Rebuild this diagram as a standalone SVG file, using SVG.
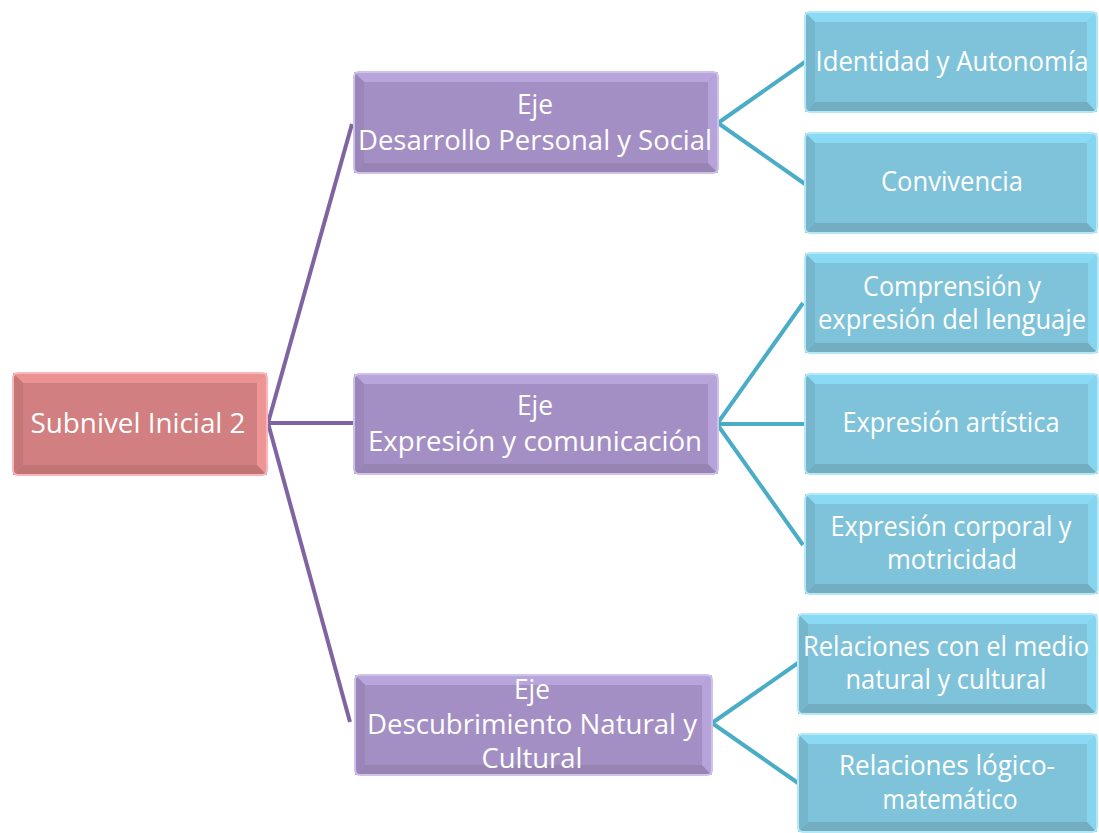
<svg xmlns="http://www.w3.org/2000/svg" width="1099" height="833" viewBox="0 0 1099 833">
<style>
text{font-family:"Open Sans","Liberation Sans",sans-serif;font-size:26.5px;fill:#fff;text-anchor:middle}
.red .face{fill:#D17F80}.red .top{fill:#EB9293}.red .lft{fill:#C57677}.red .rgt{fill:#EE9596}.red .bot{fill:#C27475}.red .edge{stroke:#F6B8B8}
.pur .face{fill:#A38FC3}.pur .top{fill:#B8A5DC}.pur .lft{fill:#9A86B8}.pur .rgt{fill:#B6A3D9}.pur .bot{fill:#9784B2}.pur .edge{stroke:#CFC2EA}
.blu .face{fill:#7FC3DA}.blu .top{fill:#8ADAF5}.blu .lft{fill:#76B6CC}.blu .rgt{fill:#87D4EF}.blu .bot{fill:#73ADC2}.blu .edge{stroke:#B5E8F7}
.edge{fill:none;stroke-width:2}
.cp{stroke:#8064A2;stroke-width:4;fill:none}
.cb{stroke:#4BACC6;stroke-width:4;fill:none}
</style>
<rect width="1099" height="833" fill="#fff"/>
<g id="connectors">
<path class="cp" d="M268 423L352 124M268 423H354M268 423L350 722"/>
<path class="cb" d="M718 123L805 62M718 123L805 184M717 424L803 303M717 424H805M717 424L803 545M712 723L798 663M712 723L798 783"/>
</g>
<g id="root" class="red">
<rect class="face" x="13" y="373" width="254" height="102" rx="5"/>
<path class="top" d="M13 373h254l-10 10h-234z"/><path class="bot" d="M13 475h254l-10-10h-234z"/><path class="lft" d="M13 373l10 10v82l-10 10z"/><path class="rgt" d="M267 373l-10 10v82l10 10z"/>
<rect class="edge" x="13" y="373" width="254" height="102" rx="5"/>
<text x="138" y="433" textLength="215" lengthAdjust="spacingAndGlyphs">Subnivel Inicial 2</text>
</g>
<g id="eje1" class="pur">
<rect class="face" x="354" y="72" width="364" height="101" rx="5"/>
<path class="top" d="M354 72h364l-10 10h-344z"/><path class="bot" d="M354 173h364l-10-10h-344z"/><path class="lft" d="M354 72l10 10v81l-10 10z"/><path class="rgt" d="M718 72l-10 10v81l10 10z"/>
<rect class="edge" x="354" y="72" width="364" height="101" rx="5"/>
<text x="535" y="114" textLength="36" lengthAdjust="spacingAndGlyphs">Eje</text><text x="535" y="150" textLength="354" lengthAdjust="spacingAndGlyphs">Desarrollo Personal y Social</text>
</g>
<g id="eje2" class="pur">
<rect class="face" x="354" y="374" width="364" height="100" rx="5"/>
<path class="top" d="M354 374h364l-10 10h-344z"/><path class="bot" d="M354 474h364l-10-10h-344z"/><path class="lft" d="M354 374l10 10v80l-10 10z"/><path class="rgt" d="M718 374l-10 10v80l10 10z"/>
<rect class="edge" x="354" y="374" width="364" height="100" rx="5"/>
<text x="535" y="415" textLength="36" lengthAdjust="spacingAndGlyphs">Eje</text><text x="535" y="451" textLength="334" lengthAdjust="spacingAndGlyphs">Expresión y comunicación</text>
</g>
<g id="eje3" class="pur">
<rect class="face" x="355" y="675" width="357" height="100" rx="5"/>
<path class="top" d="M355 675h357l-10 10h-337z"/><path class="bot" d="M355 775h357l-10-10h-337z"/><path class="lft" d="M355 675l10 10v80l-10 10z"/><path class="rgt" d="M712 675l-10 10v80l10 10z"/>
<rect class="edge" x="355" y="675" width="357" height="100" rx="5"/>
<text x="532" y="699" textLength="36" lengthAdjust="spacingAndGlyphs">Eje</text><text x="532" y="734" textLength="330" lengthAdjust="spacingAndGlyphs">Descubrimiento Natural y</text><text x="532" y="768" textLength="101" lengthAdjust="spacingAndGlyphs">Cultural</text>
</g>
<g id="identidad" class="blu">
<rect class="face" x="805" y="12" width="292" height="100" rx="5"/>
<path class="top" d="M805 12h292l-10 10h-272z"/><path class="bot" d="M805 112h292l-10-10h-272z"/><path class="lft" d="M805 12l10 10v80l-10 10z"/><path class="rgt" d="M1097 12l-10 10v80l10 10z"/>
<rect class="edge" x="805" y="12" width="292" height="100" rx="5"/>
<text x="952" y="71" textLength="273" lengthAdjust="spacingAndGlyphs">Identidad y Autonomía</text>
</g>
<g id="convivencia" class="blu">
<rect class="face" x="805" y="133" width="292" height="100" rx="5"/>
<path class="top" d="M805 133h292l-10 10h-272z"/><path class="bot" d="M805 233h292l-10-10h-272z"/><path class="lft" d="M805 133l10 10v80l-10 10z"/><path class="rgt" d="M1097 133l-10 10v80l10 10z"/>
<rect class="edge" x="805" y="133" width="292" height="100" rx="5"/>
<text x="952" y="191" textLength="142" lengthAdjust="spacingAndGlyphs">Convivencia</text>
</g>
<g id="comprension" class="blu">
<rect class="face" x="805" y="253" width="293" height="100" rx="5"/>
<path class="top" d="M805 253h293l-10 10h-273z"/><path class="bot" d="M805 353h293l-10-10h-273z"/><path class="lft" d="M805 253l10 10v80l-10 10z"/><path class="rgt" d="M1098 253l-10 10v80l10 10z"/>
<rect class="edge" x="805" y="253" width="293" height="100" rx="5"/>
<text x="952" y="296" textLength="178" lengthAdjust="spacingAndGlyphs">Comprensión y</text><text x="952" y="329" textLength="268" lengthAdjust="spacingAndGlyphs">expresión del lenguaje</text>
</g>
<g id="artistica" class="blu">
<rect class="face" x="805" y="374" width="293" height="100" rx="5"/>
<path class="top" d="M805 374h293l-10 10h-273z"/><path class="bot" d="M805 474h293l-10-10h-273z"/><path class="lft" d="M805 374l10 10v80l-10 10z"/><path class="rgt" d="M1098 374l-10 10v80l10 10z"/>
<rect class="edge" x="805" y="374" width="293" height="100" rx="5"/>
<text x="951" y="432" textLength="217" lengthAdjust="spacingAndGlyphs">Expresión artística</text>
</g>
<g id="corporal" class="blu">
<rect class="face" x="805" y="494" width="293" height="100" rx="5"/>
<path class="top" d="M805 494h293l-10 10h-273z"/><path class="bot" d="M805 594h293l-10-10h-273z"/><path class="lft" d="M805 494l10 10v80l-10 10z"/><path class="rgt" d="M1098 494l-10 10v80l10 10z"/>
<rect class="edge" x="805" y="494" width="293" height="100" rx="5"/>
<text x="951" y="536" textLength="241" lengthAdjust="spacingAndGlyphs">Expresión corporal y</text><text x="952" y="569" textLength="130" lengthAdjust="spacingAndGlyphs">motricidad</text>
</g>
<g id="medio" class="blu">
<rect class="face" x="798" y="614" width="299" height="100" rx="5"/>
<path class="top" d="M798 614h299l-10 10h-279z"/><path class="bot" d="M798 714h299l-10-10h-279z"/><path class="lft" d="M798 614l10 10v80l-10 10z"/><path class="rgt" d="M1097 614l-10 10v80l10 10z"/>
<rect class="edge" x="798" y="614" width="299" height="100" rx="5"/>
<text x="946" y="656" textLength="286" lengthAdjust="spacingAndGlyphs">Relaciones con el medio</text><text x="946" y="689" textLength="201" lengthAdjust="spacingAndGlyphs">natural y cultural</text>
</g>
<g id="logico" class="blu">
<rect class="face" x="798" y="734" width="299" height="98" rx="5"/>
<path class="top" d="M798 734h299l-10 10h-279z"/><path class="bot" d="M798 832h299l-10-10h-279z"/><path class="lft" d="M798 734l10 10v78l-10 10z"/><path class="rgt" d="M1097 734l-10 10v78l10 10z"/>
<rect class="edge" x="798" y="734" width="299" height="98" rx="5"/>
<text x="947" y="775" textLength="216" lengthAdjust="spacingAndGlyphs">Relaciones lógico-</text><text x="950" y="809" textLength="135" lengthAdjust="spacingAndGlyphs">matemático</text>
</g>
</svg>
